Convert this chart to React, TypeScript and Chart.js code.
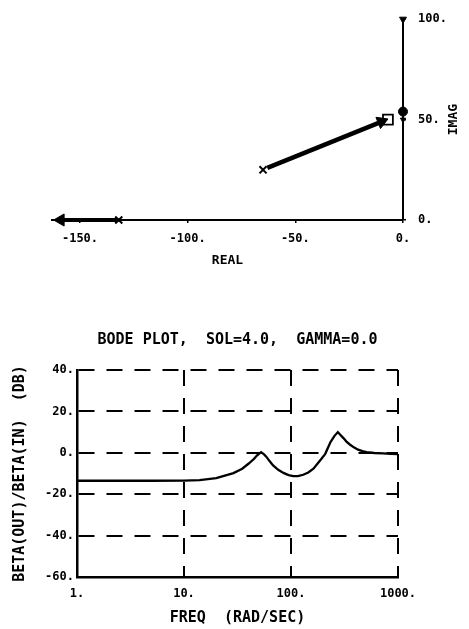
import React, { useEffect, useRef } from 'react';
import { Chart, registerables } from 'chart.js';

Chart.register(...registerables);

const FONT = '"DejaVu Sans Mono", "Liberation Mono", monospace';

// ---------- Root locus (top) ----------
const realTicks = [-150, -100, -50, 0];
const imagTicks = [0, 50, 100];
const realLocusX = [-132, -159];
const realLocusY = [0, 0];
const complexLocusX = [-63, -11];
const complexLocusY = [26, 48.5];
const arrowX = [-159, -10, 0, 0];
const arrowY = [0, 49, 100, 50];
const poleX = [-132, -65];
const poleY = [0, 25];
const zeroX = [-7];
const zeroY = [50];
const rootX = [0];
const rootY = [54];

// ---------- Bode plot (bottom) ----------
const freqTicks = [1, 10, 100, 1000];
const dbTicks = [-60, -40, -20, 0, 20, 40];
const freq = [1, 5, 10, 14, 20, 29, 35, 40, 45, 48, 52.5, 56, 59, 63, 68, 76, 85, 95, 105, 116, 130, 145, 162, 187, 209, 234, 255, 274, 290, 309, 330, 357, 390, 424, 465, 510, 600, 725, 850, 1000];
const gainDb = [-13.5, -13.5, -13.4, -13.2, -12.2, -9.8, -7.7, -5.3, -3.0, -1.3, 0.3, -0.8, -2.0, -4.0, -6.1, -8.2, -9.7, -10.8, -11.3, -11.3, -10.6, -9.5, -7.7, -3.7, -0.5, 5.2, 8.2, 10.0, 8.6, 7.1, 5.4, 3.9, 2.5, 1.5, 0.8, 0.3, -0.1, -0.3, -0.5, -0.6];

const pts = (xs: number[], ys: number[]) => xs.map((x, i) => ({ x, y: ys[i] }));
const tickFont = { family: FONT, size: 12, weight: 'bold' as const };
const titleFont = { family: FONT, size: 15, weight: 'bold' as const };

const imagTitle = {
  id: 'imagTitle',
  afterDraw(chart: any) {
    const { ctx, chartArea } = chart;
    ctx.save();
    ctx.translate(chartArea.right + 51, (chartArea.top + chartArea.bottom) / 2);
    ctx.rotate(-Math.PI / 2);
    ctx.font = `bold 13px ${FONT}`;
    ctx.fillStyle = '#000';
    ctx.textAlign = 'center';
    ctx.textBaseline = 'middle';
    ctx.fillText('IMAG', 0, 0);
    ctx.restore();
  },
};

function RootLocus() {
  const ref = useRef<HTMLCanvasElement>(null);
  useEffect(() => {
    const chart = new Chart(ref.current!, {
      type: 'scatter',
      data: {
        datasets: [
          { data: pts(realLocusX, realLocusY), showLine: true, borderColor: '#000', borderWidth: 4, pointRadius: 0, clip: false } as any,
          { data: pts(complexLocusX, complexLocusY), showLine: true, borderColor: '#000', borderWidth: 4.5, pointRadius: 0, clip: false } as any,
          {
            data: pts(arrowX, arrowY), showLine: false, pointStyle: 'triangle',
            rotation: [270, 68, 180, 180], pointRadius: [7, 7, 4, 3],
            backgroundColor: '#000', borderColor: '#000', borderWidth: 1, clip: false,
          } as any,
          { data: pts(poleX, poleY), showLine: false, pointStyle: 'crossRot', pointRadius: 5, borderColor: '#000', borderWidth: 2, clip: false } as any,
          { data: pts(zeroX, zeroY), showLine: false, pointStyle: 'rect', pointRadius: 7, backgroundColor: '#fff', borderColor: '#000', borderWidth: 1.8, clip: false } as any,
          { data: pts(zeroX, zeroY), showLine: false, pointStyle: 'cross', pointRadius: 3.5, borderColor: '#000', borderWidth: 1.2, clip: false } as any,
          { data: pts(rootX, rootY), showLine: false, pointStyle: 'circle', pointRadius: 4.5, backgroundColor: '#000', borderColor: '#000', clip: false } as any,
        ],
      },
      options: {
        animation: false,
        responsive: false,
        events: [],
        layout: { padding: { left: 52, top: 15 } },
        plugins: { legend: { display: false }, tooltip: { enabled: false } },
        scales: {
          x: {
            type: 'linear', position: 'bottom', min: -163, max: 0,
            afterBuildTicks: (s: any) => { s.ticks = realTicks.map((v) => ({ value: v })); },
            afterFit: (s: any) => { s.height = 70; },
            grid: { drawOnChartArea: false, drawTicks: true, tickLength: 3, color: '#000', lineWidth: 1.5 },
            border: { display: true, color: '#000', width: 2 },
            ticks: { color: '#000', font: tickFont, padding: 9, maxRotation: 0, autoSkip: false, callback: (v: any) => `${v}.` },
            title: { display: true, text: 'REAL', color: '#000', font: { family: FONT, size: 13, weight: 'bold' }, padding: { top: 0, bottom: 22 } },
          },
          y: {
            type: 'linear', position: 'right', min: 0, max: 100,
            afterBuildTicks: (s: any) => { s.ticks = imagTicks.map((v) => ({ value: v })); },
            afterFit: (s: any) => { s.width = 66; },
            grid: { drawOnChartArea: false, drawTicks: true, tickLength: 3, color: '#000', lineWidth: 1.5 },
            border: { display: true, color: '#000', width: 2 },
            ticks: { color: '#000', font: tickFont, padding: 12, autoSkip: false, callback: (v: any) => `${v}.` },
          },
        },
      } as any,
      plugins: [imagTitle],
    });
    return () => chart.destroy();
  }, []);
  return <canvas ref={ref} width={469} height={290} style={{ display: 'block' }} />;
}

function Bode() {
  const ref = useRef<HTMLCanvasElement>(null);
  useEffect(() => {
    const chart = new Chart(ref.current!, {
      type: 'line',
      data: {
        datasets: [
          { data: pts(freq, gainDb), borderColor: '#000', borderWidth: 2.3, pointRadius: 0, tension: 0, fill: false },
        ],
      },
      options: {
        animation: false,
        responsive: false,
        events: [],
        layout: { padding: { right: 71 } },
        plugins: {
          legend: { display: false },
          tooltip: { enabled: false },
          title: {
            display: true, fullSize: false, text: 'BODE PLOT,  SOL=4.0,  GAMMA=0.0', color: '#000',
            font: titleFont, padding: { top: 41, bottom: 21 },
          },
        },
        scales: {
          x: {
            type: 'logarithmic', min: 1, max: 1000,
            afterBuildTicks: (s: any) => { s.ticks = freqTicks.map((v) => ({ value: v })); },
            afterFit: (s: any) => { s.height = 52; },
            grid: { drawTicks: false, color: '#000', lineWidth: 2 },
            border: { display: true, color: '#000', width: 2.5, dash: [16, 12] },
            ticks: { color: '#000', font: tickFont, padding: 10, maxRotation: 0, autoSkip: false, callback: (v: any) => `${v}.` },
            title: { display: true, text: 'FREQ  (RAD/SEC)', color: '#000', font: titleFont, padding: { top: 0, bottom: 2 } },
          },
          y: {
            type: 'linear', min: -60, max: 40,
            afterBuildTicks: (s: any) => { s.ticks = dbTicks.map((v) => ({ value: v })); },
            afterFit: (s: any) => { s.width = 77; },
            grid: { drawTicks: false, color: '#000', lineWidth: 2 },
            border: { display: true, color: '#000', width: 2.5, dash: [16, 12] },
            ticks: { color: '#000', font: tickFont, padding: 3, autoSkip: false, callback: (v: any) => `${v}.` },
            title: { display: true, text: 'BETA(OUT)/BETA(IN)  (DB)', color: '#000', font: titleFont, padding: { top: 11, bottom: 0 } },
          },
        },
      } as any,
    });
    return () => chart.destroy();
  }, []);
  return <canvas ref={ref} width={469} height={339} style={{ display: 'block' }} />;
}

export default function App() {
  return (
    <div style={{ position: 'fixed', left: 0, top: 0, width: 469, height: 629, background: '#fff' }}>
      <RootLocus />
      <Bode />
    </div>
  );
}
